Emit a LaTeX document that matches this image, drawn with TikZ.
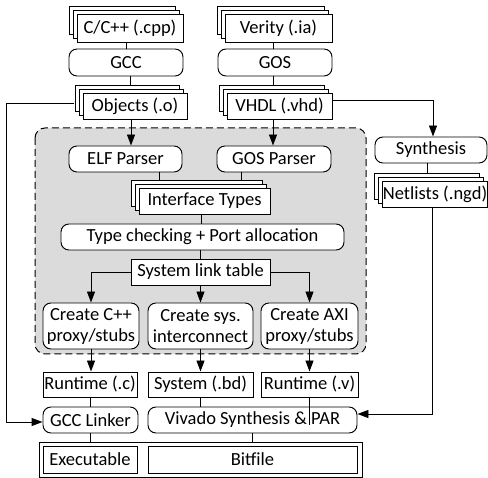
\documentclass[tikz,border=0pt]{standalone}
\usepackage{fontspec}
\setmainfont{Carlito}
\usetikzlibrary{arrows.meta,shadows,calc,backgrounds}
\definecolor{regionfill}{RGB}{219,219,219}
\begin{document}
\begin{tikzpicture}[x=1pt,y=-1pt,line width=0.95pt,
  every node/.style={font=\fontsize{18.5}{21}\selectfont, inner sep=0pt, align=center},
  sqbox/.style={draw, fill=white, minimum height=26pt},
  rbox/.style={draw, fill=white, minimum height=26pt, rounded corners=8pt},
  stackbox/.style={draw, fill=white, minimum height=26pt,
    general shadow={shadow xshift=-8pt, shadow yshift=8pt, fill=white, draw=black, line width=0.8pt},
    general shadow={shadow xshift=-4pt, shadow yshift=4pt, fill=white, draw=black, line width=0.8pt}},
  arr/.style={-{Triangle[length=11pt,width=8pt]}}]
\useasboundingbox (0,0) rectangle (488,478);

% region
\begin{scope}[on background layer]
  \draw[fill=regionfill, draw=black, line width=1pt, dash pattern=on 7pt off 4pt, rounded corners=10pt] (35,128) rectangle (366,354);
\end{scope}

% top
\node[stackbox, minimum width=106pt, minimum height=28pt] (cpp) at (130,28) {C/C++ (.cpp)};
\node[rbox, minimum width=114pt, minimum height=27pt] (gcc) at (126,62.5) {GCC};
\node[stackbox, minimum width=104pt] (obj) at (135,106) {Objects (.o)};
\node[stackbox, minimum width=107pt, minimum height=28pt] (verity) at (278.5,28) {Verity (.ia)};
\node[rbox, minimum width=114pt, minimum height=27pt] (gos) at (275,62.5) {GOS};
\node[stackbox, minimum width=105pt] (vhdl) at (279.5,106) {VHDL (.vhd)};

% right
\node[rbox, minimum width=112pt] (synth) at (431,150) {Synthesis};
\node[stackbox, minimum width=104pt] (net) at (435,194) {Netlists (.ngd)};

% region contents
\node[rbox, minimum width=113pt] (elf) at (125.5,159) {ELF Parser};
\node[rbox, minimum width=114pt] (gosp) at (274,159) {GOS Parser};
\node[stackbox, minimum width=131pt] (iface) at (204.5,201) {Interface Types};
\node[rbox, minimum width=283pt] (tc) at (202.5,237) {Type checking + Port allocation};
\node[sqbox, minimum width=139pt] (slt) at (200.5,272) {System link table};
\node[rbox, minimum width=96pt, minimum height=46pt] (ccpp) at (91,326) {Create C++\\proxy/stubs};
\node[rbox, minimum width=105pt, minimum height=46pt] (csys) at (200.5,326) {Create sys.\\interconnect};
\node[rbox, minimum width=97pt, minimum height=46pt] (caxi) at (309.5,326) {Create AXI\\proxy/stubs};

% bottom
\node[sqbox, minimum width=94pt, minimum height=25pt] (rtc) at (90,384.5) {Runtime (.c)};
\node[sqbox, minimum width=105pt, minimum height=25pt] (sys) at (200.5,384.5) {System (.bd)};
\node[sqbox, minimum width=97pt, minimum height=25pt] (rtv) at (309.5,384.5) {Runtime (.v)};
\node[rbox, minimum width=95pt] (gccl) at (90.5,420) {GCC Linker};
\node[rbox, minimum width=209pt] (viv) at (252.5,420) {Vivado Synthesis \& PAR};
\node[draw, minimum width=323pt, minimum height=35pt] (outer) at (200.5,459.5) {};
\node[sqbox, minimum width=94pt, minimum height=27pt] (exe) at (90,459.5) {Executable};
\node[sqbox, minimum width=209pt, minimum height=27pt] (bit) at (252.5,459.5) {Bitfile};

% connectors
\draw (gcc.north) -- (gcc.north |- cpp.south);
\draw ($(gcc.south)+(4,0)$) -- ($(gcc.south |- obj.north)+(4,-8)$);
\draw ($(gos.north)+(-2,0)$) -- ($(gos.north |- verity.south)+(-2,0)$);
\draw ($(gos.south)+(-2,0)$) -- ($(gos.south |- vhdl.north)+(-2,-8)$);
\draw[arr] ($(obj.south)+(-4,0)$) -- ($(obj.south |- elf.north)+(-4,0)$);
\draw[arr] ($(vhdl.south)+(-6.5,0)$) -- ($(vhdl.south |- gosp.north)+(-6.5,0)$);
\draw[arr] ($(vhdl.east)+(0,-6)$) -| ($(synth.north)+(2,0)$);
\draw[arr] ($(obj.west)+(-9,-3)$) -- ++(-67,0) |- ($(gccl.west)+(0,2)$);
\draw ($(elf.south)+(33.5,0)$) -- ($(elf.south |- iface.north)+(33.5,-8)$);
\draw ($(gosp.south)+(-33,0)$) -- ($(gosp.south |- iface.north)+(-33,-8)$);
\draw ($(iface.south)+(-3.5,0)$) -- ($(iface.south |- tc.north)+(-3.5,0)$);
\draw (slt.north) -- (slt.north |- tc.south);
\draw[arr] (slt.west) -| (ccpp.north);
\draw[arr] (slt.south) -- (slt.south |- csys.north);
\draw[arr] (slt.east) -| (caxi.north);
\draw[arr] (ccpp.south) -- (ccpp.south |- rtc.north);
\draw[arr] (csys.south) -- (csys.south |- sys.north);
\draw[arr] (caxi.south) -- (caxi.south |- rtv.north);
\draw (rtc.south) -- (rtc.south |- gccl.north);
\draw (sys.south) -- (sys.south |- viv.north);
\draw (rtv.south) -- ($(rtv.south |- viv.center)+(0,5)$);
\draw (gccl.south) -- (gccl.south |- outer.north);
\draw (viv.south) -- (viv.south |- outer.north);
\draw ($(synth.south)+(-4,0)$) -- ($(synth.south |- net.north)+(-4,-8)$);
\draw[arr] ($(net.south)+(-3,0)$) |- ($(viv.east)+(0,-6)$);
\end{tikzpicture}
\end{document}
